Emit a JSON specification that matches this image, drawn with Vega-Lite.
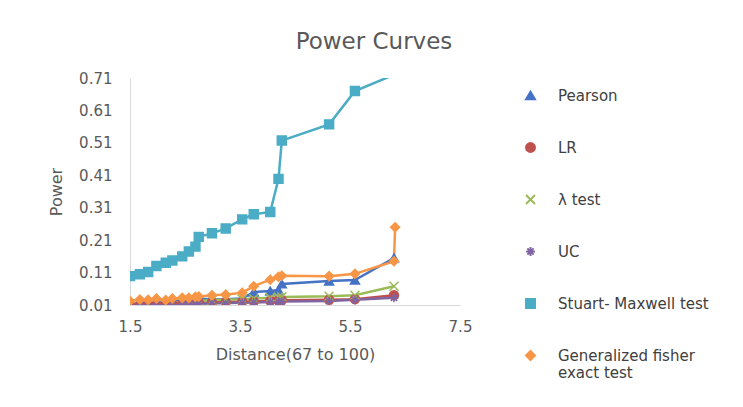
{
  "$schema": "https://vega.github.io/schema/vega-lite/v6.json",
  "autosize": {"type": "none"},
  "width": 330,
  "height": 227,
  "padding": {"left": 130, "top": 78, "right": 283, "bottom": 102},
  "background": "white",
  "config": {
    "font": "DejaVu Sans",
    "view": {"stroke": null},
    "axis": {"grid": false, "ticks": false, "domainColor": "#d9d9d9", "labelColor": "#595959", "titleColor": "#595959", "labelFont": "DejaVu Sans", "titleFont": "DejaVu Sans", "titleFontWeight": "normal"}
  },
  "title": {"text": "Power Curves", "fontSize": 23, "font": "DejaVu Sans", "fontWeight": "normal", "color": "#595959", "anchor": "middle", "frame": "group", "dx": 79, "offset": 17},
  "data": {"values": [
    {"x": 1.5, "series": "Pearson", "power": 0.013}, {"x": 1.68, "series": "Pearson", "power": 0.014}, {"x": 1.83, "series": "Pearson", "power": 0.015}, {"x": 1.98, "series": "Pearson", "power": 0.016}, {"x": 2.15, "series": "Pearson", "power": 0.02}, {"x": 2.27, "series": "Pearson", "power": 0.022}, {"x": 2.45, "series": "Pearson", "power": 0.024}, {"x": 2.57, "series": "Pearson", "power": 0.027}, {"x": 2.69, "series": "Pearson", "power": 0.034}, {"x": 2.75, "series": "Pearson", "power": 0.03}, {"x": 2.99, "series": "Pearson", "power": 0.027}, {"x": 3.24, "series": "Pearson", "power": 0.028}, {"x": 3.54, "series": "Pearson", "power": 0.03}, {"x": 3.75, "series": "Pearson", "power": 0.05}, {"x": 4.05, "series": "Pearson", "power": 0.053}, {"x": 4.2, "series": "Pearson", "power": 0.056}, {"x": 4.26, "series": "Pearson", "power": 0.075}, {"x": 5.12, "series": "Pearson", "power": 0.084}, {"x": 5.59, "series": "Pearson", "power": 0.087}, {"x": 6.3, "series": "Pearson", "power": 0.155},
    {"x": 1.5, "series": "LR", "power": 0.01}, {"x": 1.68, "series": "LR", "power": 0.01}, {"x": 1.83, "series": "LR", "power": 0.011}, {"x": 1.98, "series": "LR", "power": 0.011}, {"x": 2.15, "series": "LR", "power": 0.012}, {"x": 2.27, "series": "LR", "power": 0.012}, {"x": 2.45, "series": "LR", "power": 0.013}, {"x": 2.57, "series": "LR", "power": 0.014}, {"x": 2.69, "series": "LR", "power": 0.015}, {"x": 2.75, "series": "LR", "power": 0.016}, {"x": 2.99, "series": "LR", "power": 0.018}, {"x": 3.24, "series": "LR", "power": 0.019}, {"x": 3.54, "series": "LR", "power": 0.02}, {"x": 3.75, "series": "LR", "power": 0.021}, {"x": 4.05, "series": "LR", "power": 0.023}, {"x": 4.2, "series": "LR", "power": 0.024}, {"x": 4.26, "series": "LR", "power": 0.025}, {"x": 5.12, "series": "LR", "power": 0.026}, {"x": 5.59, "series": "LR", "power": 0.028}, {"x": 6.3, "series": "LR", "power": 0.04},
    {"x": 1.5, "series": "λ test", "power": 0.013}, {"x": 1.68, "series": "λ test", "power": 0.014}, {"x": 1.83, "series": "λ test", "power": 0.014}, {"x": 1.98, "series": "λ test", "power": 0.015}, {"x": 2.15, "series": "λ test", "power": 0.017}, {"x": 2.27, "series": "λ test", "power": 0.018}, {"x": 2.45, "series": "λ test", "power": 0.019}, {"x": 2.57, "series": "λ test", "power": 0.02}, {"x": 2.69, "series": "λ test", "power": 0.022}, {"x": 2.75, "series": "λ test", "power": 0.023}, {"x": 2.99, "series": "λ test", "power": 0.025}, {"x": 3.24, "series": "λ test", "power": 0.027}, {"x": 3.54, "series": "λ test", "power": 0.028}, {"x": 3.75, "series": "λ test", "power": 0.03}, {"x": 4.05, "series": "λ test", "power": 0.032}, {"x": 4.2, "series": "λ test", "power": 0.034}, {"x": 4.26, "series": "λ test", "power": 0.035}, {"x": 5.12, "series": "λ test", "power": 0.037}, {"x": 5.59, "series": "λ test", "power": 0.04}, {"x": 6.3, "series": "λ test", "power": 0.068},
    {"x": 1.5, "series": "UC", "power": 0.01}, {"x": 1.68, "series": "UC", "power": 0.01}, {"x": 1.83, "series": "UC", "power": 0.01}, {"x": 1.98, "series": "UC", "power": 0.011}, {"x": 2.15, "series": "UC", "power": 0.011}, {"x": 2.27, "series": "UC", "power": 0.011}, {"x": 2.45, "series": "UC", "power": 0.012}, {"x": 2.57, "series": "UC", "power": 0.012}, {"x": 2.69, "series": "UC", "power": 0.013}, {"x": 2.75, "series": "UC", "power": 0.014}, {"x": 2.99, "series": "UC", "power": 0.015}, {"x": 3.24, "series": "UC", "power": 0.016}, {"x": 3.54, "series": "UC", "power": 0.017}, {"x": 3.75, "series": "UC", "power": 0.018}, {"x": 4.05, "series": "UC", "power": 0.019}, {"x": 4.2, "series": "UC", "power": 0.02}, {"x": 4.26, "series": "UC", "power": 0.021}, {"x": 5.12, "series": "UC", "power": 0.022}, {"x": 5.59, "series": "UC", "power": 0.026}, {"x": 6.3, "series": "UC", "power": 0.032},
    {"x": 1.5, "series": "Stuart- Maxwell test", "power": 0.099}, {"x": 1.68, "series": "Stuart- Maxwell test", "power": 0.105}, {"x": 1.83, "series": "Stuart- Maxwell test", "power": 0.112}, {"x": 1.98, "series": "Stuart- Maxwell test", "power": 0.13}, {"x": 2.15, "series": "Stuart- Maxwell test", "power": 0.14}, {"x": 2.27, "series": "Stuart- Maxwell test", "power": 0.147}, {"x": 2.45, "series": "Stuart- Maxwell test", "power": 0.16}, {"x": 2.57, "series": "Stuart- Maxwell test", "power": 0.175}, {"x": 2.69, "series": "Stuart- Maxwell test", "power": 0.19}, {"x": 2.75, "series": "Stuart- Maxwell test", "power": 0.22}, {"x": 2.99, "series": "Stuart- Maxwell test", "power": 0.231}, {"x": 3.24, "series": "Stuart- Maxwell test", "power": 0.246}, {"x": 3.54, "series": "Stuart- Maxwell test", "power": 0.274}, {"x": 3.75, "series": "Stuart- Maxwell test", "power": 0.29}, {"x": 4.05, "series": "Stuart- Maxwell test", "power": 0.297}, {"x": 4.2, "series": "Stuart- Maxwell test", "power": 0.399}, {"x": 4.26, "series": "Stuart- Maxwell test", "power": 0.517}, {"x": 5.12, "series": "Stuart- Maxwell test", "power": 0.567}, {"x": 5.59, "series": "Stuart- Maxwell test", "power": 0.67}, {"x": 6.3, "series": "Stuart- Maxwell test", "power": 0.72},
    {"x": 1.5, "series": "Generalized fisher exact test", "power": 0.022}, {"x": 1.68, "series": "Generalized fisher exact test", "power": 0.027}, {"x": 1.83, "series": "Generalized fisher exact test", "power": 0.026}, {"x": 1.98, "series": "Generalized fisher exact test", "power": 0.03}, {"x": 2.15, "series": "Generalized fisher exact test", "power": 0.025}, {"x": 2.27, "series": "Generalized fisher exact test", "power": 0.03}, {"x": 2.45, "series": "Generalized fisher exact test", "power": 0.032}, {"x": 2.57, "series": "Generalized fisher exact test", "power": 0.032}, {"x": 2.69, "series": "Generalized fisher exact test", "power": 0.035}, {"x": 2.75, "series": "Generalized fisher exact test", "power": 0.036}, {"x": 2.99, "series": "Generalized fisher exact test", "power": 0.04}, {"x": 3.24, "series": "Generalized fisher exact test", "power": 0.042}, {"x": 3.54, "series": "Generalized fisher exact test", "power": 0.048}, {"x": 3.75, "series": "Generalized fisher exact test", "power": 0.068}, {"x": 4.05, "series": "Generalized fisher exact test", "power": 0.088}, {"x": 4.2, "series": "Generalized fisher exact test", "power": 0.097}, {"x": 4.26, "series": "Generalized fisher exact test", "power": 0.1}, {"x": 5.12, "series": "Generalized fisher exact test", "power": 0.099}, {"x": 5.59, "series": "Generalized fisher exact test", "power": 0.106}, {"x": 6.3, "series": "Generalized fisher exact test", "power": 0.145}, {"x": 6.32, "series": "Generalized fisher exact test", "power": 0.25}
  ]},
  "encoding": {
    "x": {"field": "x", "type": "quantitative", "scale": {"domain": [1.5, 7.5], "nice": false, "zero": false}, "axis": {"values": [1.5, 3.5, 5.5, 7.5], "format": ".1f", "labelFontSize": 15, "labelPadding": 14, "labelFlush": false, "title": "Distance(67 to 100)", "titleFontSize": 16, "titlePadding": 12}},
    "y": {"field": "power", "type": "quantitative", "scale": {"domain": [0.01, 0.71], "nice": false, "zero": false}, "axis": {"values": [0.01, 0.11, 0.21, 0.31, 0.41, 0.51, 0.61, 0.71], "format": ".2f", "labelFontSize": 15, "labelPadding": 18, "title": "Power", "titleFontSize": 16, "titlePadding": 14}},
    "color": {"field": "series", "type": "nominal", "scale": {"domain": ["Pearson", "LR", "λ test", "UC", "Stuart- Maxwell test", "Generalized fisher exact test"], "range": ["#4472C4", "#C0504D", "#9BBB59", "#8064A2", "#4BACC6", "#F79646"]}, "legend": {"orient": "none", "legendX": 393, "legendY": 10, "title": null, "labelFontSize": 15, "labelColor": "#404040", "labelFont": "DejaVu Sans", "rowPadding": 35, "symbolSize": 80, "labelOffset": 20, "labelLimit": 250, "symbolStrokeWidth": 2, "labelExpr": "datum.label == 'Generalized fisher exact test' ? ['Generalized fisher', 'exact test'] : datum.label"}}
  },
  "layer": [
    {"mark": {"type": "line", "strokeWidth": 2.5, "clip": true}},
    {"transform": [{"filter": "datum.power <= 0.71"}],
     "mark": {"type": "point", "filled": true, "size": 80, "strokeWidth": 1.5, "opacity": 1, "clip": true},
     "encoding": {
       "shape": {"field": "series", "type": "nominal", "scale": {"domain": ["Pearson", "LR", "λ test", "UC", "Stuart- Maxwell test", "Generalized fisher exact test"], "range": ["triangle-up", "circle", "M-1,-1L1,1M-1,1L1,-1", "M-1,0L1,0M0,-1L0,1M-0.7,-0.7L0.7,0.7M-0.7,0.7L0.7,-0.7", "square", "diamond"]}},
       "stroke": {"field": "series", "type": "nominal", "scale": {"domain": ["Pearson", "LR", "λ test", "UC", "Stuart- Maxwell test", "Generalized fisher exact test"], "range": ["#4472C4", "#C0504D", "#9BBB59", "#8064A2", "#4BACC6", "#F79646"]}}
     }}
  ]
}
